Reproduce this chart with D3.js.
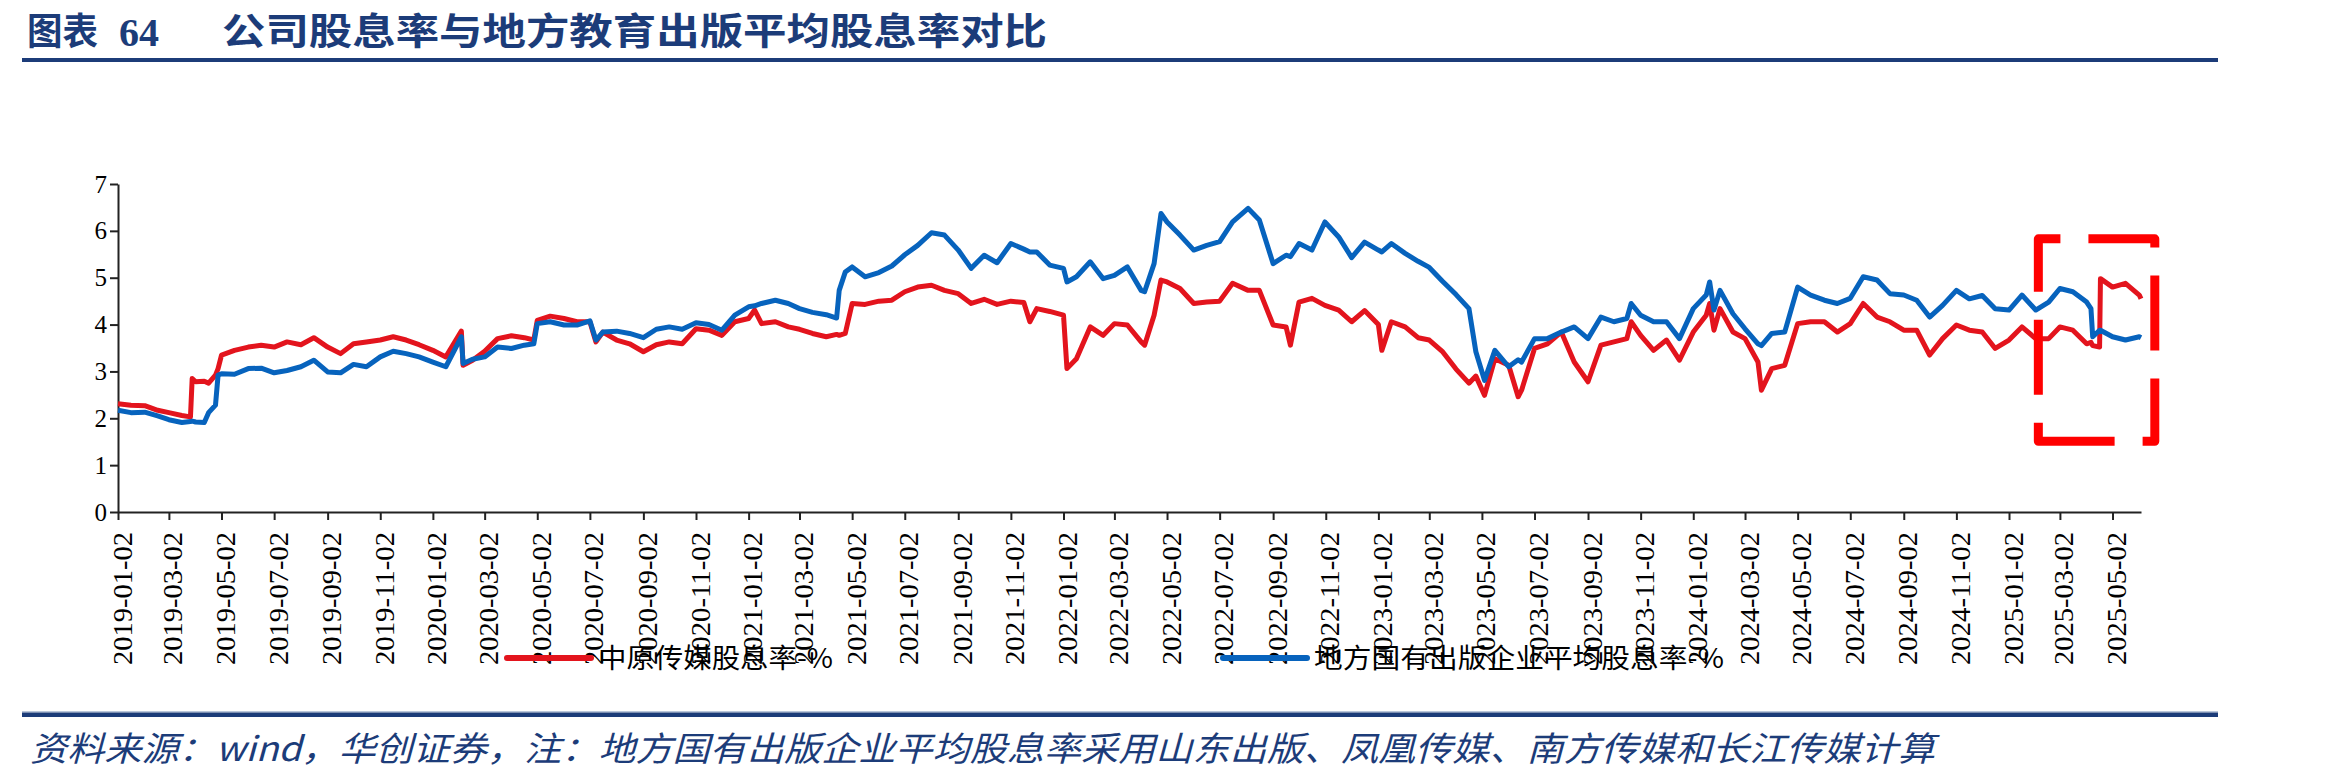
<!DOCTYPE html>
<html>
<head>
<meta charset="utf-8">
<title>公司股息率与地方教育出版平均股息率对比</title>
<style>
  body { margin: 0; background: #fff; }
  #chart { display: block; background: #fff; }
  .axis path, .axis line { stroke: #222; stroke-width: 2; }
  .axis text { fill: #000; font-family: "Liberation Serif", "Times New Roman", serif; }
  .navy { fill: #1c3c79; }
</style>
</head>
<body>
<svg id="chart"></svg>

<script src="https://cdn.jsdelivr.net/npm/d3@7"></script>
<script>
// daily dividend yield (roughly twice a month + the spikes)
var dates = [
  '2019-01-02','2019-01-17','2019-02-02','2019-02-17','2019-03-02','2019-03-17','2019-03-27','2019-03-29','2019-04-02','2019-04-12',
  '2019-04-17','2019-04-25','2019-04-28','2019-05-02','2019-05-17','2019-06-02','2019-06-17','2019-07-02','2019-07-17','2019-08-02',
  '2019-08-17','2019-09-02','2019-09-17','2019-10-02','2019-10-17','2019-11-02','2019-11-17','2019-12-02','2019-12-17',
  '2020-01-02','2020-01-17','2020-02-04','2020-02-06','2020-02-17','2020-03-02','2020-03-17','2020-04-02','2020-04-17','2020-04-28',
  '2020-05-02','2020-05-17','2020-06-02','2020-06-17','2020-07-02','2020-07-09','2020-07-17','2020-08-02','2020-08-17','2020-09-02',
  '2020-09-17','2020-10-02','2020-10-17','2020-11-02','2020-11-17','2020-12-02','2020-12-17',
  '2021-01-02','2021-01-09','2021-01-17','2021-02-02','2021-02-17','2021-03-02','2021-03-17','2021-04-02','2021-04-14','2021-04-17',
  '2021-04-24','2021-05-02','2021-05-17','2021-06-02','2021-06-17','2021-07-02','2021-07-17','2021-08-02','2021-08-17','2021-09-02',
  '2021-09-17','2021-10-02','2021-10-17','2021-11-02','2021-11-17','2021-11-24','2021-12-02','2021-12-17',
  '2022-01-02','2022-01-06','2022-01-17','2022-02-02','2022-02-17','2022-03-02','2022-03-17','2022-04-02','2022-04-06','2022-04-17',
  '2022-04-25','2022-05-02','2022-05-17','2022-06-02','2022-06-17','2022-07-02','2022-07-17','2022-08-04','2022-08-17','2022-09-02',
  '2022-09-17','2022-09-22','2022-10-02','2022-10-17','2022-11-01','2022-11-17','2022-12-02','2022-12-17',
  '2023-01-02','2023-01-06','2023-01-17','2023-02-02','2023-02-17','2023-03-02','2023-03-17','2023-04-02','2023-04-17','2023-04-25',
  '2023-05-05','2023-05-17','2023-06-02','2023-06-13','2023-06-17','2023-07-02','2023-07-17','2023-08-02','2023-08-17','2023-09-02',
  '2023-09-17','2023-10-02','2023-10-17','2023-10-22','2023-11-02','2023-11-17','2023-12-02','2023-12-17',
  '2024-01-02','2024-01-17','2024-01-21','2024-01-26','2024-02-02','2024-02-17','2024-03-02','2024-03-17','2024-03-21','2024-04-02',
  '2024-04-17','2024-05-02','2024-05-17','2024-06-02','2024-06-17','2024-07-02','2024-07-17','2024-08-02','2024-08-17','2024-09-02',
  '2024-09-17','2024-10-02','2024-10-17','2024-11-02','2024-11-17','2024-12-02','2024-12-17',
  '2025-01-02','2025-01-17','2025-02-02','2025-02-17','2025-03-02','2025-03-17','2025-04-02','2025-04-07','2025-04-09','2025-04-17',
  '2025-04-18','2025-05-02','2025-05-17','2025-06-02','2025-06-04'
];

// 中原传媒
var zhongyuan = [
  2.31,2.28,2.27,2.17,2.12,2.06,2.03,2.85,2.78,2.79, 2.75,2.92,3.06,3.35,3.45,3.52,3.56,3.52,3.63,3.57,
  3.72,3.52,3.38,3.59,3.63,3.67,3.74,3.67,3.57,
  3.45,3.31,3.86,3.13,3.24,3.43,3.70,3.76,3.72,3.67, 4.09,4.18,4.13,4.06,4.06,3.63,3.84,3.67,3.59,3.42,
  3.57,3.63,3.59,3.91,3.88,3.77,4.06,
  4.13,4.31,4.02,4.06,3.95,3.90,3.81,3.74,3.79,3.77, 3.81,4.45,4.43,4.50,4.52,4.70,4.80,4.84,4.73,4.66,
  4.45,4.54,4.43,4.50,4.47,4.06,4.34,4.28,
  4.20,3.06,3.27,3.95,3.77,4.02,3.99,3.63,3.56,4.20, 4.95,4.91,4.77,4.45,4.48,4.50,4.88,4.73,4.73,3.99,
  3.95,3.56,4.48,4.56,4.41,4.31,4.06,4.30,
  4.00,3.45,4.06,3.95,3.72,3.67,3.43,3.05,2.75,2.90, 2.49,3.27,3.13,2.46,2.60,3.49,3.59,3.84,3.20,2.78,
  3.56,3.63,3.70,4.06,3.77,3.45,3.67,3.24,
  3.84,4.20,4.45,3.88,4.34,3.84,3.70,3.20,2.60,3.06, 3.13,4.02,4.06,4.06,3.84,4.02,4.45,4.16,4.06,3.88,
  3.88,3.35,3.70,3.99,3.88,3.84,3.49,
  3.67,3.95,3.70,3.70,3.95,3.88,3.59,3.62,3.55,3.52, 4.98,4.80,4.88,4.63,4.55
];

// 地方国有出版企业平均
var difang = [
  2.17,2.12,2.13,2.05,1.97,1.91,1.93,1.94,1.92,1.91, 2.12,2.28,2.92,2.95,2.94,3.06,3.07,2.97,3.02,3.10,
  3.24,2.99,2.97,3.15,3.10,3.31,3.43,3.38,3.31,
  3.20,3.10,3.74,3.17,3.26,3.31,3.52,3.49,3.56,3.59, 4.02,4.06,3.99,3.99,4.08,3.67,3.84,3.86,3.81,3.72,
  3.90,3.95,3.90,4.04,4.00,3.88,4.20,
  4.38,4.40,4.45,4.52,4.45,4.34,4.26,4.21,4.14,4.73, 5.12,5.23,5.02,5.11,5.25,5.49,5.69,5.96,5.91,5.59,
  5.20,5.48,5.32,5.73,5.61,5.55,5.55,5.27,
  5.20,4.91,5.02,5.34,4.98,5.05,5.23,4.73,4.70,5.30, 6.37,6.19,5.91,5.59,5.69,5.77,6.19,6.48,6.23,5.30,
  5.48,5.45,5.73,5.59,6.19,5.87,5.43,5.76,
  5.59,5.55,5.73,5.52,5.35,5.22,4.93,4.64,4.34,3.42, 2.81,3.45,3.10,3.25,3.20,3.70,3.70,3.84,3.95,3.70,
  4.16,4.06,4.13,4.45,4.20,4.06,4.06,3.70,
  4.34,4.63,4.91,4.31,4.73,4.23,3.91,3.59,3.55,3.81, 3.84,4.80,4.63,4.52,4.45,4.56,5.02,4.95,4.66,4.63,
  4.52,4.16,4.41,4.73,4.55,4.62,4.34,
  4.31,4.63,4.31,4.48,4.77,4.70,4.48,4.34,3.74,3.88, 3.88,3.74,3.67,3.74,3.72
];

var seriesNames = ['中原传媒股息率-%', '地方国有出版企业平均股息率-%'];
var seriesColors = ['#e3141d', '#0763bd'];

var tickDates = [
  '2019-01-02','2019-03-02','2019-05-02','2019-07-02','2019-09-02','2019-11-02',
  '2020-01-02','2020-03-02','2020-05-02','2020-07-02','2020-09-02','2020-11-02',
  '2021-01-02','2021-03-02','2021-05-02','2021-07-02','2021-09-02','2021-11-02',
  '2022-01-02','2022-03-02','2022-05-02','2022-07-02','2022-09-02','2022-11-02',
  '2023-01-02','2023-03-02','2023-05-02','2023-07-02','2023-09-02','2023-11-02',
  '2024-01-02','2024-03-02','2024-05-02','2024-07-02','2024-09-02','2024-11-02',
  '2025-01-02','2025-03-02','2025-05-02'
];
var yTicks = [0, 1, 2, 3, 4, 5, 6, 7];

// red dashed frame around the latest months
var boxDates = ['2025-02-05', '2025-06-20'];
var boxValues = [1.51, 5.83];

var titleLabel = '图表';
var titleNo = '64';
var titleText = '公司股息率与地方教育出版平均股息率对比';
var sourceText = '资料来源：wind，华创证券，注：地方国有出版企业平均股息率采用山东出版、凤凰传媒、南方传媒和长江传媒计算';

var W = 2327, H = 783;
var margin = { top: 184, right: 186, bottom: 271, left: 118 };
var width = W - margin.left - margin.right,
    height = H - margin.top - margin.bottom;

var parse = d3.timeParse('%Y-%m-%d');

var svg = d3.select('#chart')
  .attr('width', W)
  .attr('height', H);

// title + rules
svg.append('text').attr('class', 'navy')
  .attr('x', 27).attr('y', 45)
  .style('font-family', '"Noto Sans CJK SC", sans-serif').style('font-weight', 700).style('font-size', '37px')
  .attr('textLength', 71).attr('lengthAdjust', 'spacingAndGlyphs')
  .text(titleLabel);
svg.append('text').attr('class', 'navy')
  .attr('x', 119).attr('y', 46)
  .style('font-family', '"Liberation Serif", serif').style('font-weight', 700).style('font-size', '40px')
  .text(titleNo);
svg.append('text').attr('class', 'navy')
  .attr('x', 222).attr('y', 45)
  .style('font-family', '"Noto Sans CJK SC", sans-serif').style('font-weight', 700).style('font-size', '37px')
  .attr('textLength', 825).attr('lengthAdjust', 'spacingAndGlyphs')
  .text(titleText);

svg.append('rect').attr('x', 22).attr('y', 58).attr('width', 2196).attr('height', 4).style('fill', '#1c3c79');
svg.append('rect').attr('x', 22).attr('y', 711).attr('width', 2196).attr('height', 1.5).style('fill', '#b9c6da');
svg.append('rect').attr('x', 22).attr('y', 712.5).attr('width', 2196).attr('height', 4.5).style('fill', '#1c3c79');

svg.append('text').attr('class', 'navy')
  .attr('x', 30).attr('y', 761)
  .style('font-family', '"Noto Sans CJK SC", sans-serif').style('font-style', 'italic').style('font-size', '34px')
  .attr('textLength', 1905).attr('lengthAdjust', 'spacingAndGlyphs')
  .text(sourceText);

var g = svg.append('g')
  .attr('transform', 'translate(' + margin.left + ',' + margin.top + ')');

var x = d3.scaleTime()
  .domain([parse(dates[0]), parse(dates[dates.length - 1])])
  .range([0, width]);

var y = d3.scaleLinear()
  .domain([0, 7])
  .range([height, 0]);

var xAxis = d3.axisBottom(x)
  .tickValues(tickDates.map(parse))
  .tickFormat(d3.timeFormat('%Y-%m-%d'))
  .tickSize(8)
  .tickSizeOuter(0);

var yAxis = d3.axisLeft(y)
  .tickValues(yTicks)
  .tickFormat(d3.format('d'))
  .tickSize(8)
  .tickSizeOuter(0);

var gx = g.append('g')
  .attr('class', 'axis')
  .attr('transform', 'translate(0,' + height + ')')
  .call(xAxis);

gx.selectAll('text')
  .attr('transform', 'rotate(-90)')
  .attr('text-anchor', 'end')
  .attr('x', -20)
  .attr('y', 13)
  .attr('dy', null)
  .style('font-size', '27px')
  .attr('textLength', 133)
  .attr('lengthAdjust', 'spacingAndGlyphs');

var gy = g.append('g')
  .attr('class', 'axis')
  .call(yAxis);

gy.selectAll('text')
  .attr('x', -11)
  .style('font-size', '25px');

// lines, red first so the blue one sits on top
var seriesValues = [zhongyuan, difang];
var line = d3.line()
  .x(function (d, i) { return x(parse(dates[i])); })
  .y(function (d) { return y(d); });

seriesValues.forEach(function (vals, k) {
  g.append('path')
    .datum(vals)
    .attr('d', line)
    .style('fill', 'none')
    .style('stroke', seriesColors[k])
    .style('stroke-width', 5)
    .style('stroke-linejoin', 'round');
});

// dashed highlight frame, path starts on the bottom edge and goes clockwise
var bx0 = x(parse(boxDates[0])), bx1 = x(parse(boxDates[1]));
var by0 = y(boxValues[1]), by1 = y(boxValues[0]);
var start = bx0 + 74.5;
g.append('path')
  .attr('d', 'M' + start + ',' + by1 + 'H' + bx0 + 'V' + by0 + 'H' + bx1 + 'V' + by1 + 'Z')
  .style('fill', 'none')
  .style('stroke', '#ff0000')
  .style('stroke-width', 9)
  .style('stroke-linejoin', 'round')
  .style('stroke-dasharray', '93,28,75,28,75,28,75,28,75,28,75,28');

// legend (drawn over the tick labels like the original)
var legend = svg.append('g');
var legendX = [507, 1223];
var legendLen = [235, 410];
seriesNames.forEach(function (name, k) {
  legend.append('line')
    .attr('x1', legendX[k]).attr('x2', legendX[k] + 84)
    .attr('y1', 658).attr('y2', 658)
    .style('stroke', seriesColors[k])
    .style('stroke-width', 6)
    .style('stroke-linecap', 'round');
  legend.append('text')
    .attr('x', legendX[k] + 91).attr('y', 668)
    .style('font-family', '"Noto Sans CJK SC", sans-serif')
    .style('font-size', '27px')
    .style('fill', '#000')
    .attr('textLength', legendLen[k])
    .attr('lengthAdjust', 'spacingAndGlyphs')
    .text(name);
});
</script>
</body>
</html>
